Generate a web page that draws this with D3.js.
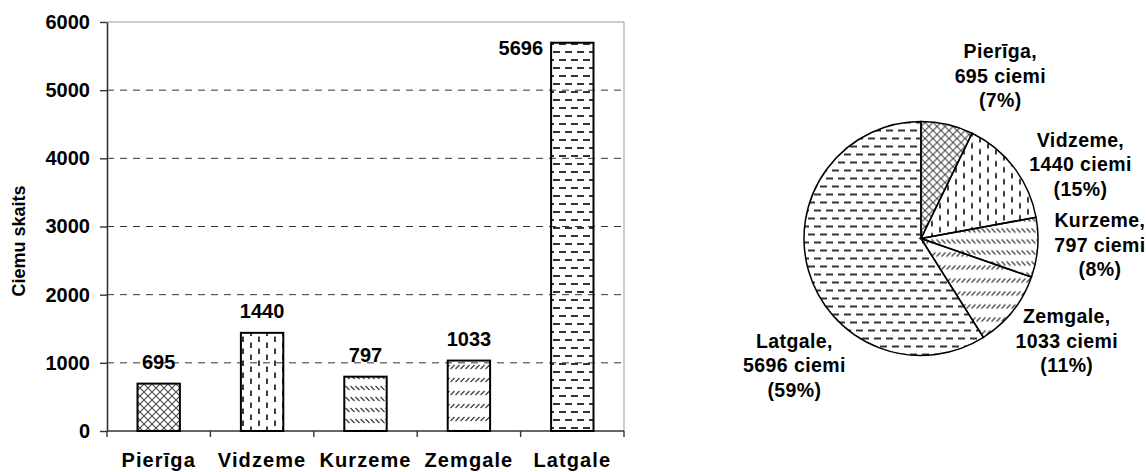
<!DOCTYPE html>
<html>
<head>
<meta charset="utf-8">
<script src="https://cdn.jsdelivr.net/npm/d3@7"></script>
<style>
  body { margin: 0; background: #fff; }
  svg { display: block; font-family: Arial, "Liberation Sans", sans-serif; font-weight: bold; }
</style>
</head>
<body>
<svg id="chart"></svg>
<script>
// data
const regions = ["Pierīga", "Vidzeme", "Kurzeme", "Zemgale", "Latgale"];
const villages = [695, 1440, 797, 1033, 5696];
const yTicks = [0, 1000, 2000, 3000, 4000, 5000, 6000];
const patternIds = ["cross", "vdash", "bslash", "fslash", "hdash"];

const svgWidth = 1146, svgHeight = 472;
const svg = d3.select("#chart").attr("width", svgWidth).attr("height", svgHeight);
svg.append("rect").attr("width", svgWidth).attr("height", svgHeight).attr("fill", "#fff");

// fill patterns
const defs = svg.append("defs");
const ink = "#333";

let p = defs.append("pattern").attr("id", "cross").attr("patternUnits", "userSpaceOnUse")
  .attr("width", 8).attr("height", 8);
p.append("path").attr("d", "M0,0L8,8M8,0L0,8").attr("stroke", "#4a4a4a").attr("stroke-width", 1.1);

p = defs.append("pattern").attr("id", "vdash").attr("patternUnits", "userSpaceOnUse")
  .attr("width", 16).attr("height", 12);
p.append("path").attr("d", "M3,0.5V6M11,6.5V12").attr("stroke", ink).attr("stroke-width", 1.9);

p = defs.append("pattern").attr("id", "bslash").attr("patternUnits", "userSpaceOnUse")
  .attr("width", 5).attr("height", 11);
p.append("path").attr("d", "M0.5,1L4.5,5").attr("stroke", ink).attr("stroke-width", 1.1);

p = defs.append("pattern").attr("id", "fslash").attr("patternUnits", "userSpaceOnUse")
  .attr("width", 5).attr("height", 13);
p.append("path").attr("d", "M0.5,5L4.5,1").attr("stroke", ink).attr("stroke-width", 1.1);

p = defs.append("pattern").attr("id", "hdash").attr("patternUnits", "userSpaceOnUse")
  .attr("width", 12).attr("height", 16);
p.append("path").attr("d", "M1,4H8M7,12H14M-5,12H2").attr("stroke", ink).attr("stroke-width", 1.9);

// ---------- bar chart ----------
const plotL = 107, plotR = 624, plotT = 22, plotB = 431;

const x = d3.scaleBand().domain(regions).range([plotL, plotR])
  .paddingInner(0.59).paddingOuter(0.295);
const y = d3.scaleLinear().domain([0, 6000]).range([plotB, plotT]);

const g = svg.append("g");

// frame top/right
g.append("path")
  .attr("d", `M${plotL},${plotT}H${plotR}V${plotB}`)
  .attr("fill", "none").attr("stroke", "#9a9a9a").attr("stroke-width", 1);

// dashed gridlines
g.selectAll("line.grid").data(yTicks.filter(t => t > 0 && t < 6000)).join("line")
  .attr("class", "grid")
  .attr("x1", plotL).attr("x2", plotR)
  .attr("y1", d => y(d)).attr("y2", d => y(d))
  .attr("stroke", "#333").attr("stroke-dasharray", "7,6").attr("stroke-width", 1);

// y axis
const yAxis = g.append("g")
  .attr("transform", `translate(${plotL},0)`)
  .call(d3.axisLeft(y).tickValues(yTicks).tickFormat(d3.format("d"))
    .tickSize(7).tickSizeOuter(0).tickPadding(10));
yAxis.select(".domain").attr("stroke", "#333").attr("stroke-width", 1.6);
yAxis.selectAll(".tick line").attr("stroke", "#333").attr("stroke-width", 1.4);
yAxis.selectAll(".tick text")
  .attr("font-size", 20).attr("font-weight", "bold").attr("fill", "#000")
  .attr("font-family", "Arial, 'Liberation Sans', sans-serif");

// x axis baseline + boundary ticks
g.append("line").attr("x1", plotL).attr("x2", plotR).attr("y1", plotB).attr("y2", plotB)
  .attr("stroke", "#333").attr("stroke-width", 1.6);
const bounds = regions.map(r => x(r) - (x.step() - x.bandwidth()) / 2).concat([plotR]);
g.selectAll("line.xt").data(bounds).join("line")
  .attr("class", "xt")
  .attr("x1", d => d).attr("x2", d => d)
  .attr("y1", plotB).attr("y2", plotB + 6)
  .attr("stroke", "#333").attr("stroke-width", 1.4);

g.selectAll("text.cat").data(regions).join("text")
  .attr("class", "cat")
  .attr("x", d => x(d) + x.bandwidth() / 2)
  .attr("y", plotB + 36)
  .attr("text-anchor", "middle")
  .attr("font-size", 20).attr("letter-spacing", 1.1)
  .text(d => d);

// bars
g.selectAll("rect.bar").data(villages).join("rect")
  .attr("class", "bar")
  .attr("x", (d, i) => x(regions[i]))
  .attr("y", d => y(d))
  .attr("width", x.bandwidth())
  .attr("height", d => plotB - y(d))
  .attr("fill", (d, i) => `url(#${patternIds[i]})`)
  .attr("stroke", "#000").attr("stroke-width", 2);

// value labels (the tallest one sits beside its bar)
g.selectAll("text.val").data(villages).join("text")
  .attr("class", "val")
  .attr("x", (d, i) => d > 5000 ? x(regions[i]) - 8 : x(regions[i]) + x.bandwidth() / 2)
  .attr("y", d => d > 5000 ? y(d) + 12 : y(d) - 15)
  .attr("text-anchor", d => d > 5000 ? "end" : "middle")
  .attr("font-size", 20)
  .text(d => d);

// y title
svg.append("text")
  .attr("transform", "translate(25,241) rotate(-90)")
  .attr("text-anchor", "middle")
  .attr("font-size", 18)
  .text("Ciemu skaits");

// ---------- pie chart ----------
const cx = 921, cy = 238.5, r = 117;
const total = d3.sum(villages);
const pie = d3.pie().sort(null).value(d => d);
const arcs = pie(villages);
const arc = d3.arc().innerRadius(0).outerRadius(r);

const pg = svg.append("g").attr("transform", `translate(${cx},${cy})`);
pg.selectAll("path").data(arcs).join("path")
  .attr("d", arc)
  .attr("fill", (d, i) => `url(#${patternIds[i]})`)
  .attr("stroke", "#000").attr("stroke-width", 1.5);

// label placement: polar position (degrees clockwise from top, radius)
const labelAngle = [26, 65, 92, 125, 225];
const labelRadius = [181, 176, 179, 178, 179];
const lineH = 24.5;

arcs.forEach((a, i) => {
  const ang = labelAngle[i] * Math.PI / 180;
  const lx = Math.sin(ang) * labelRadius[i];
  const ly = -Math.cos(ang) * labelRadius[i];
  const pct = Math.round(villages[i] / total * 100);
  const lines = [regions[i] + ",", villages[i] + " ciemi", "(" + pct + "%)"];
  const t = pg.append("text")
    .attr("text-anchor", "middle")
    .attr("font-size", 19.5)
    .attr("letter-spacing", 0.4);
  lines.forEach((s, k) => {
    t.append("tspan")
      .attr("x", lx)
      .attr("y", ly + (k - 1) * lineH + 7)
      .text(s);
  });
});
</script>
</body>
</html>
